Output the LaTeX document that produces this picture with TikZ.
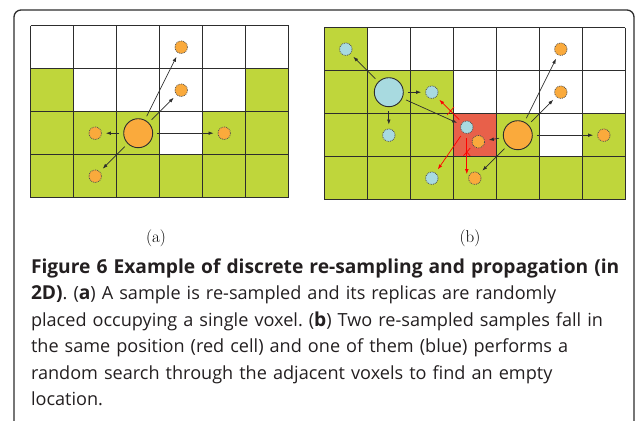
\documentclass[tikz,border=0pt]{standalone}
\usepackage{fontspec}
\setsansfont{Open Sans}
\usepackage{tikz}
\usetikzlibrary{arrows.meta,shapes.misc}

\definecolor{voxgreen}{RGB}{191,214,59}
\definecolor{smporange}{RGB}{250,170,60}
\definecolor{smpblue}{RGB}{168,218,224}
\definecolor{clashred}{RGB}{232,96,74}
\definecolor{gridgray}{RGB}{45,45,45}
\definecolor{captext}{RGB}{35,31,32}

% bold parts of the caption are set a little larger
\newcommand\capbold[1]{{\fontsize{19.2}{26.5}\selectfont\bfseries #1}}

\begin{document}
\begin{tikzpicture}[x=1pt, y=-1pt, line join=round,
    gridline/.style={gridgray, line width=0.9pt},
    big/.style={circle, draw=gridgray, line width=0.9pt, minimum size=29pt, inner sep=0pt},
    small/.style={circle, draw=gridgray!85, densely dotted, line width=0.8pt, minimum size=12.5pt, inner sep=0pt},
    move/.style={-{Latex[length=5pt,width=3.6pt]}, gridgray, line width=0.7pt, shorten <=4pt, shorten >=4pt},
    search/.style={move, red},
    nope/.style={draw=red, cross out, line width=0.7pt, minimum width=6pt, minimum height=7pt, inner sep=0pt},
    sublabel/.style={font=\fontsize{17}{20}\selectfont, inner sep=0pt}]
  \def\cell{43}

  \useasboundingbox (0,0) rectangle (636,420);
  \clip (0,0) rectangle (636,420);
  % outer frame
  \draw[gridgray, line width=1.3pt, rounded corners=7pt] (14,10) rectangle (634,460);

  % grid (a)
  \begin{scope}[shift={(30.7,25.7)}]
    \foreach \c/\r in {0/1,5/1,0/2,1/2,2/2,4/2,5/2,0/3,1/3,2/3,3/3,4/3,5/3}
      \fill[voxgreen] (\cell*\c,\cell*\r) rectangle ++(\cell,\cell);
    \foreach \c in {0,...,6}
      \draw[gridline] (\cell*\c,0) -- (\cell*\c,4*\cell);
    \foreach \r in {0,...,4}
      \draw[gridline] (0,\cell*\r) -- (6*\cell,\cell*\r);

    \node[big, fill=smporange] (A) at (2.5*\cell,2.5*\cell) {};
    \node[small, fill=smporange] (a30) at (3.5*\cell,0.5*\cell) {};
    \node[small, fill=smporange] (a31) at (3.5*\cell,1.5*\cell) {};
    \node[small, fill=smporange] (a12) at (1.5*\cell,2.5*\cell) {};
    \node[small, fill=smporange] (a42) at (4.5*\cell,2.5*\cell) {};
    \node[small, fill=smporange] (a13) at (1.5*\cell,3.5*\cell) {};
    \draw[move] (A) -- (a30);
    \draw[move] (A) -- (a31);
    \draw[move] (A) -- (a12);
    \draw[move] (A) -- (a42);
    \draw[move] (A) -- (a13);
  \end{scope}

  % grid (b)
  \begin{scope}[shift={(324.3,27.7)}]
    \foreach \c/\r in {0/0,0/1,1/1,2/1,0/2,1/2,2/2,4/2,6/2,0/3,1/3,2/3,3/3,4/3,5/3,6/3}
      \fill[voxgreen] (\cell*\c,\cell*\r) rectangle ++(\cell,\cell);
    \fill[clashred] (3*\cell,2*\cell) rectangle ++(\cell,\cell); % red cell
    \foreach \c in {0,...,7}
      \draw[gridline] (\cell*\c,0) -- (\cell*\c,4*\cell);
    \foreach \r in {0,...,4}
      \draw[gridline] (0,\cell*\r) -- (7*\cell,\cell*\r);

    \node[big, fill=smpblue] (B) at (1.5*\cell,1.5*\cell) {};
    \node[big, fill=smporange] (O) at (4.5*\cell,2.5*\cell) {};
    % blue replicas
    \node[small, fill=smpblue] (b00) at (0.5*\cell,0.5*\cell) {};
    \node[small, fill=smpblue] (b21) at (2.5*\cell,1.5*\cell) {};
    \node[small, fill=smpblue] (b12) at (1.5*\cell,2.5*\cell) {};
    \node[small, fill=smpblue] (bx) at (3.5*\cell-8,2.5*\cell-8) {};
    \node[small, fill=smpblue] (b23) at (2.5*\cell,3.5*\cell) {};
    % orange replicas
    \node[small, fill=smporange] (o50) at (5.5*\cell,0.5*\cell) {};
    \node[small, fill=smporange] (o51) at (5.5*\cell,1.5*\cell) {};
    \node[small, fill=smporange] (o62) at (6.5*\cell,2.5*\cell) {};
    \node[small, fill=smporange] (ox) at (3.5*\cell+3.5,2.5*\cell+6.5) {};
    \node[small, fill=smporange] (o33) at (3.5*\cell,3.5*\cell) {};
    \coordinate (down) at (3.5*\cell-8,3.5*\cell-4);

    \draw[move] (B) -- (b00);
    \draw[move] (B) -- (b21);
    \draw[move] (B) -- (b12);
    \draw[move] (B) -- (bx);
    \draw[move] (O) -- (o50);
    \draw[move] (O) -- (o51);
    \draw[move] (O) -- (o62);
    \draw[move] (O) -- (ox);
    \draw[move] (O) -- (o33);
    % random search of the blue one
    \draw[search] (bx) -- node[nope, pos=0.45] (x1) {} (b21);
    \draw[search, shorten >=0pt] (bx) -- node[nope, pos=0.45] (x2) {} (down);
    \draw[search] (bx) -- (b23);
  \end{scope}

  \node[sublabel] (la) at (156,238) {(a)};
  \node[sublabel] (lb) at (470,238) {(b)};

  \node[anchor=base west, align=left, text width=620pt, inner sep=0pt, text=captext,
        font=\sffamily\frenchspacing\fontsize{18.1}{26.5}\selectfont] (cap) at (30.8,273.3)
    {\capbold{Figure 6 Example of discrete re-sampling and propagation (in}\\
     \capbold{2D)}. (\capbold{a}) A sample is re-sampled and its replicas are randomly\\
     placed occupying a single voxel. (\capbold{b}) Two re-sampled samples fall in\\
     the same position (red cell) and one of them (blue) performs a\\
     random search through the adjacent voxels to find an empty\\
     location.};
\end{tikzpicture}
\end{document}
